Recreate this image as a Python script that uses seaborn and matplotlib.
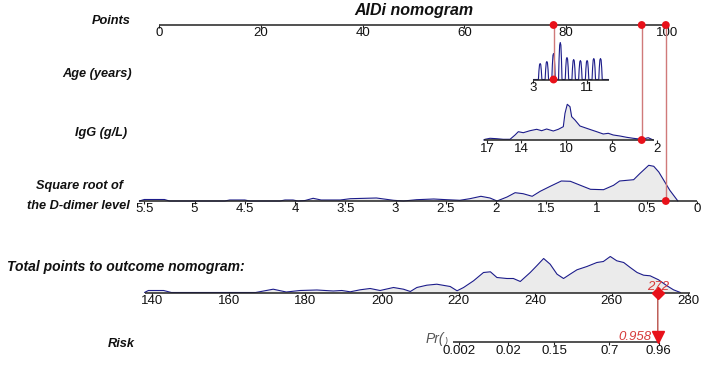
import matplotlib
matplotlib.use("Agg")
import matplotlib.pyplot as plt
import matplotlib.transforms as mtransforms
import numpy as np
import seaborn as sns

pontos_ticks = [0, 20, 40, 60, 80, 100]

idade_valores = [4, 5, 6, 7, 8, 9, 10, 11, 12, 13]
idade_freq = [16, 18, 26, 37, 22, 20, 19, 19, 21, 21]
idade_ticks = [3, 11]
idade_faixa = [3, 14.2]

igg_ticks = [17, 14, 10, 6, 2]
igg_faixa = [17.3, 2.3]
igg_x = [17.3, 17.18, 16.74, 16.15, 15.57, 14.97, 14.53, 14.24, 13.8, 13.21, 12.62, 12.18,
			11.74, 11.15, 10.71, 10.27, 10.12, 9.92, 9.68, 9.53, 9.24, 8.8, 8.21, 7.77, 7.32,
			6.74, 6.3, 5.86, 5.27, 4.68, 4.09, 3.35, 2.77, 2.33]
igg_dens = [0, 0.7, 1.7, 1.3, 0.7, 0.7, 5, 8.3, 7.3, 9.3, 10.7, 9.3,
			11, 9, 10.7, 13.3, 26.7, 35.7, 33.3, 23.3, 20, 14, 11.7, 10, 8.3,
			6, 6.7, 5, 4, 2.7, 1.7, 0.7, 2.3, 0]

dd_ticks = [5.5, 5, 4.5, 4, 3.5, 3, 2.5, 2, 1.5, 1, 0.5, 0]
dd_rotulos = ["5.5", "5", "4.5", "4", "3.5", "3", "2.5", "2", "1.5", "1", "0.5", "0"]
dd_faixa = [5.55, 0]
dd_x = [5.55, 5.5, 5.3, 5.25, 4.7, 4.65, 4.5, 4.45, 4.15, 4.1, 4.02, 3.97, 3.9, 3.82, 3.74,
		3.65, 3.55, 3.45, 3.19, 3.02, 2.92, 2.79, 2.62, 2.49, 2.36, 2.26, 2.15, 2.06, 1.99,
		1.89, 1.81, 1.73, 1.64, 1.56, 1.46, 1.35, 1.26, 1.16, 1.06, 0.93, 0.83, 0.77, 0.63,
		0.57, 0.48, 0.43, 0.38, 0.32, 0.27, 0.19]
dd_dens = [0, 1.5, 1.5, 0, 0, 1, 1, 0, 0, 1, 1, 0, 0.5, 2.7, 1,
		1, 1, 2.3, 3, 0.7, 0, 1.3, 2, 1.3, 0.7, 2.3, 4.7, 3, 0,
		4, 8.3, 7.3, 4.7, 9.7, 14.7, 20, 19.7, 15.7, 11.7, 11.3, 15.7, 20, 21.3,
		27.3, 35.7, 34.7, 29, 19, 10.7, 0]

total_ticks = [140, 160, 180, 200, 220, 240, 260, 280]
total_faixa = [138, 280.5]
total_x = [138, 139, 143, 145, 167, 171.6, 175, 178.6, 183, 187.3, 189.5, 191.7, 194.3,
			196.9, 199.5, 203, 205.6, 207.4, 209.1, 211.7, 214.3, 217.8, 219.6, 221.3, 223.9,
			226.5, 228.3, 230, 232.6, 234.3, 236.1, 238.7, 240.4, 242.2, 243.9, 245.7, 247.4,
			249.1, 250.9, 253.5, 256.1, 257.8, 259.6, 261.3, 263.1, 264.8, 266.6, 268.3, 270,
			272.2, 274.4, 276.1, 277.9]
total_dens = [0, 2, 2, 0, 0, 3.3, 0.5, 2, 2.5, 1.5, 2, 0.7, 2.7,
			4, 2, 5, 3.3, 1, 5, 7.3, 8.3, 6, 1.7, 5, 11.7,
			20, 20.7, 15, 14, 14, 11, 20, 26.7, 34, 28.3, 18.3, 14,
			18.3, 22.7, 26, 30, 31, 36, 31.7, 30, 25, 20, 17.3, 16.7,
			12.7, 6.7, 2.7, 0]

risco_ticks = [0.002, 0.02, 0.15, 0.7, 0.96]
risco_rotulos = ["0.002", "0.02", "0.15", "0.7", "0.96"]
risco_faixa = [0.0015, 0.958]

### Paciente destacado
pac_idade = 6
pac_igg = 3.35
pac_dd = 0.31
pac_total = 272
pac_risco = 0.958

### Escalas do modelo (valor -> pontos)
def pts_idade(v):
	return 69.65 + 1.32 * np.asarray(v, dtype = float)

def pts_igg(v):
	return 97.93 - 2.23 * (np.asarray(v, dtype = float) - 2)

def pts_dd(v):
	return 105.8 - 19.78 * np.asarray(v, dtype = float)

def pos_total(t):  # pontos totais -> posição na régua de pontos
	return 0.754 * np.asarray(t, dtype = float) - 107.0

def pos_risco(p):  # risco -> pontos totais (logit = -45.833 + 0.18*T) -> posição
	p = np.asarray(p, dtype = float)
	logit = np.log(p / (1 - p))
	return pos_total((logit + 45.833) / 0.18)

### Layout (linhas de base em pixels da figura)
y_pontos, y_idade, y_igg, y_dd, y_total, y_risco = 25, 79.5, 140, 201, 292.5, 342

sns.set_style("white")
plt.rcParams["font.family"] = ["Liberation Sans", "DejaVu Sans"]

fig = plt.figure(figsize = (7.06, 3.69), dpi = 100)
ax = fig.add_axes([0, 0, 1, 1])

cor_eixo = "#222222"
cor_curva = "#1c1c8a"
cor_fill = "#ebebeb"
cor_vermelho = "#e8111a"
cor_guia = "#d07a7a"
fs = 9.5

def regua(pos_ini, pos_fim, y, ticks_pos, rotulos):
	ax.plot([pos_ini, pos_fim], [y, y], color = cor_eixo, linewidth = 1.1, solid_capstyle = "butt", zorder = 3)
	ax.vlines(ticks_pos, y, y + 3, color = cor_eixo, linewidth = 0.8, zorder = 3)
	for xp, r in zip(ticks_pos, rotulos):
		ax.text(xp, y + 2.5, r, ha = "center", va = "top", fontsize = fs, color = "#111111", zorder = 4)

def densidade(xs, dens, y, fill = cor_fill):
	xs = np.asarray(xs, dtype = float)
	ys = y - np.asarray(dens, dtype = float)
	ax.fill_between(xs, y, ys, color = fill, linewidth = 0, zorder = 1)
	sns.lineplot(x = xs, y = ys, sort = False, estimator = None, color = cor_curva,
				linewidth = 0.8, ax = ax, legend = False, zorder = 2)

### Pontos
regua(0, 100, y_pontos, pontos_ticks, [str(t) for t in pontos_ticks])

### Idade (picos por idade)
forma_dx = [-0.26, -0.18, -0.09, 0, 0.09, 0.18, 0.26]
forma_h = [0, 0.55, 0.93, 1, 0.93, 0.55, 0]
idade_px, idade_py = [], []
for a, f in zip(idade_valores, idade_freq):
	for dx, h in zip(forma_dx, forma_h):
		idade_px.append(a + dx)
		idade_py.append(f * h)
densidade(pts_idade([idade_faixa[0]] + idade_px + [idade_faixa[1]]), [0] + idade_py + [0], y_idade,
			fill = "#f4f4f8")
regua(pts_idade(idade_faixa[0]), pts_idade(idade_faixa[1]), y_idade, pts_idade(idade_ticks),
		[str(t) for t in idade_ticks])

### IgG
densidade(pts_igg(igg_x), igg_dens, y_igg)
regua(pts_igg(igg_faixa[0]), pts_igg(igg_faixa[1]), y_igg, pts_igg(igg_ticks), [str(t) for t in igg_ticks])

### D-dímero
densidade(pts_dd(dd_x), dd_dens, y_dd)
regua(pts_dd(dd_faixa[0]), pts_dd(dd_faixa[1]), y_dd, pts_dd(dd_ticks), dd_rotulos)

### Pontos totais
densidade(pos_total(total_x), total_dens, y_total)
regua(pos_total(total_faixa[0]), pos_total(total_faixa[1]), y_total, pos_total(total_ticks),
		[str(t) for t in total_ticks])

### Risco
x_ini_risco = float(pos_risco(risco_faixa[0]))
regua(x_ini_risco, pos_risco(risco_faixa[1]), y_risco, pos_risco(risco_ticks), risco_rotulos)
ax.text(x_ini_risco - 1.8, y_risco - 2.5, "Pr(", ha = "right", va = "center",
		fontsize = fs + 0.5, style = "italic", color = "#555555")
ax.text(x_ini_risco - 1.2, y_risco - 0.5, ")", ha = "center", va = "center",
		fontsize = fs - 3, style = "italic", color = "#555555")

### Paciente: guias e marcadores
pac_pts = [float(pts_idade(pac_idade)), float(pts_igg(pac_igg)), float(pts_dd(pac_dd))]
pac_y = [y_idade, y_igg, y_dd]
for xp, yp in zip(pac_pts, pac_y):
	ax.plot([xp, xp], [y_pontos, yp], color = cor_guia, linewidth = 1.0, zorder = 5)
sns.scatterplot(x = pac_pts + pac_pts, y = pac_y + [y_pontos] * 3, color = cor_vermelho,
				s = 32, edgecolor = "none", ax = ax, legend = False, zorder = 6)

xt = float(pos_total(pac_total))
xr = float(pos_risco(pac_risco))
ax.plot([xt, xr], [y_total, y_risco - 5], color = "#b8504a", linewidth = 1.0, zorder = 5)
ax.plot([xt], [y_total], marker = "D", markersize = 6.5, color = cor_vermelho, zorder = 6)
ax.plot([xr], [y_risco - 5], marker = "v", markersize = 9, color = cor_vermelho, zorder = 6)
ax.text(xt, y_total - 5, str(pac_total), ha = "center", va = "center", fontsize = fs,
		style = "italic", color = "#d63a3a", zorder = 7)
ax.text(xr - 1.2, y_risco - 5, f"{pac_risco:.3f}", ha = "right", va = "center", fontsize = fs,
		style = "italic", color = "#d63a3a", zorder = 7)

### Rótulos das linhas
rot = mtransforms.blended_transform_factory(ax.transAxes, ax.transData)
kw = dict(fontsize = 9.2, fontweight = "bold", style = "italic", color = "#111111")
ax.text(131 / 706, 21, "Points", ha = "right", va = "center", transform = rot, **kw)
ax.text(132 / 706, 74, "Age (years)", ha = "right", va = "center", transform = rot, **kw)
ax.text(127 / 706, 133, "IgG (g/L)", ha = "right", va = "center", transform = rot, **kw)
ax.text(79 / 706, 186, "Square root of", ha = "center", va = "center", transform = rot, **kw)
ax.text(130 / 706, 206, "the D-dimer level", ha = "right", va = "center", transform = rot, **kw)
ax.text(7 / 706, 267, "Total points to outcome nomogram:", ha = "left", va = "center", transform = rot,
		fontsize = 10, fontweight = "bold", style = "italic", color = "#111111")
ax.text(135 / 706, 344, "Risk", ha = "right", va = "center", transform = rot, **kw)
ax.text(50, 10, "AIDi nomogram", ha = "center", va = "center", fontsize = 11.5,
		fontweight = "bold", style = "italic", color = "#111111")

ax.set_xlim(-159.5 / 5.08, (706 - 159.5) / 5.08)
ax.set_ylim(369, 0)
ax.axis("off")

plt.savefig("out.png", dpi = 100)
